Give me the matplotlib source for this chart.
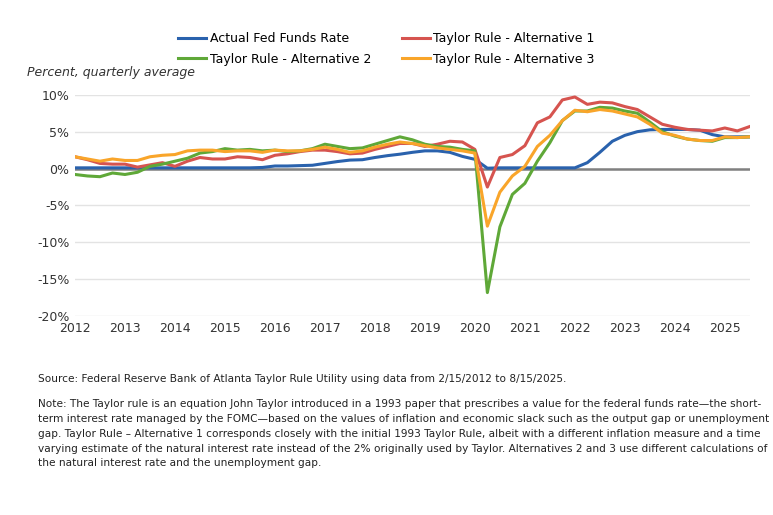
import matplotlib
matplotlib.use("Agg")
import matplotlib.pyplot as plt
import numpy as np

quarters = 2012 + 0.25 * np.arange(55)
fed_funds = [0.1,0.1,0.1,0.1, 0.1,0.1,0.1,0.1, 0.1,0.1,0.1,0.1, 0.1,0.1,0.1,0.15,
             0.35,0.35,0.4,0.45, 0.7,0.95,1.15,1.2, 1.5,1.75,1.95,2.2, 2.4,2.4,2.2,1.65,
             1.25,0.05,0.1,0.1, 0.1,0.1,0.1,0.1, 0.1,0.8,2.2,3.7, 4.5,5.0,5.25,5.3,
             5.3,5.3,5.2,4.6, 4.3,4.3,4.3]
alt1 = [1.6,1.2,0.7,0.6, 0.6,0.2,0.5,0.8, 0.3,1.0,1.5,1.3, 1.3,1.6,1.5,1.2,
        1.8,2.0,2.3,2.5, 2.5,2.3,2.0,2.1, 2.6,3.0,3.4,3.4, 3.0,3.3,3.7,3.6,
        2.6,-2.5,1.5,1.9, 3.1,6.2,7.0,9.3, 9.7,8.7,9.0,8.9, 8.4,8.0,7.0,6.0,
        5.6,5.3,5.2,5.1, 5.5,5.1,5.7]
alt2 = [-0.8,-1.0,-1.1,-0.6, -0.8,-0.5,0.3,0.6, 1.0,1.4,2.1,2.3, 2.7,2.5,2.6,2.4,
        2.5,2.3,2.4,2.7, 3.3,3.0,2.7,2.8, 3.3,3.8,4.3,3.9, 3.3,3.0,2.9,2.6,
        2.4,-16.8,-7.9,-3.5, -2.0,1.0,3.5,6.5, 7.8,7.8,8.3,8.2, 7.8,7.5,6.3,5.0,
        4.4,4.0,3.8,3.7, 4.2,4.2,4.3]
alt3 = [1.6,1.3,1.0,1.3, 1.1,1.1,1.6,1.8, 1.9,2.4,2.5,2.5, 2.3,2.4,2.4,2.2,
        2.5,2.4,2.4,2.6, 2.9,2.6,2.2,2.4, 2.9,3.3,3.6,3.4, 3.1,2.8,2.6,2.4,
        2.1,-7.8,-3.2,-1.0, 0.3,3.0,4.5,6.5, 7.9,7.7,8.0,7.8, 7.4,7.0,6.0,4.8,
        4.5,4.0,3.8,3.8, 4.3,4.2,4.3]
names = ["Actual Fed Funds Rate", "Taylor Rule - Alternative 1",
         "Taylor Rule - Alternative 2", "Taylor Rule - Alternative 3"]
colors = ["#2a62ad", "#d6544f", "#5fa838", "#f9a52a"]
year_ticks = list(range(2012, 2026))
y_ticks = [10, 5, 0, -5, -10, -15, -20]

fig = plt.figure(figsize=(7.73, 5.15), dpi=100)
ax = fig.add_axes([0.097, 0.386, 0.873, 0.43])
ax.axhline(0, color="#808080", lw=1.8, zorder=2)
lines = {}
for name, vals, c in zip(names, [fed_funds, alt1, alt2, alt3], colors):
    lines[name], = ax.plot(quarters, vals, color=c, lw=2.2, label=name, zorder=3)
ax.set_xlim(2012, 2025.5)
ax.set_ylim(-20, 10)
ax.set_xticks(year_ticks)
ax.set_xticklabels([str(y) for y in year_ticks], fontsize=9, color="#333333")
ax.set_yticks(y_ticks)
ax.set_yticklabels([f"{v}%" for v in y_ticks], fontsize=9, color="#333333")
ax.grid(axis="y", color="#e3e3e3", lw=1)
ax.set_axisbelow(True)
for s in ax.spines.values():
    s.set_visible(False)
ax.tick_params(length=0, pad=4)

order = [names[0], names[2], names[1], names[3]]
fig.legend([lines[n] for n in order], order, ncol=2, loc="center",
           bbox_to_anchor=(0.5, 0.905), frameon=False, fontsize=9,
           handlelength=2.2, columnspacing=2.5, labelspacing=0.6, handletextpad=0.3)
fig.text(0.035, 0.852, "Percent, quarterly average", fontsize=9, style="italic", color="#333333")
fig.text(0.049, 0.258, "Source: Federal Reserve Bank of Atlanta Taylor Rule Utility using data from 2/15/2012 to 8/15/2025.",
         fontsize=7.6, color="#222222")
note = ("Note: The Taylor rule is an equation John Taylor introduced in a 1993 paper that prescribes a value for the federal funds rate\u2014the short-\n"
        "term interest rate managed by the FOMC\u2014based on the values of inflation and economic slack such as the output gap or unemployment\n"
        "gap. Taylor Rule \u2013 Alternative 1 corresponds closely with the initial 1993 Taylor Rule, albeit with a different inflation measure and a time\n"
        "varying estimate of the natural interest rate instead of the 2% originally used by Taylor. Alternatives 2 and 3 use different calculations of\n"
        "the natural interest rate and the unemployment gap.")
fig.text(0.049, 0.225, note, fontsize=7.6, color="#222222", va="top", linespacing=1.6)
fig.savefig("out.png", dpi=100)
